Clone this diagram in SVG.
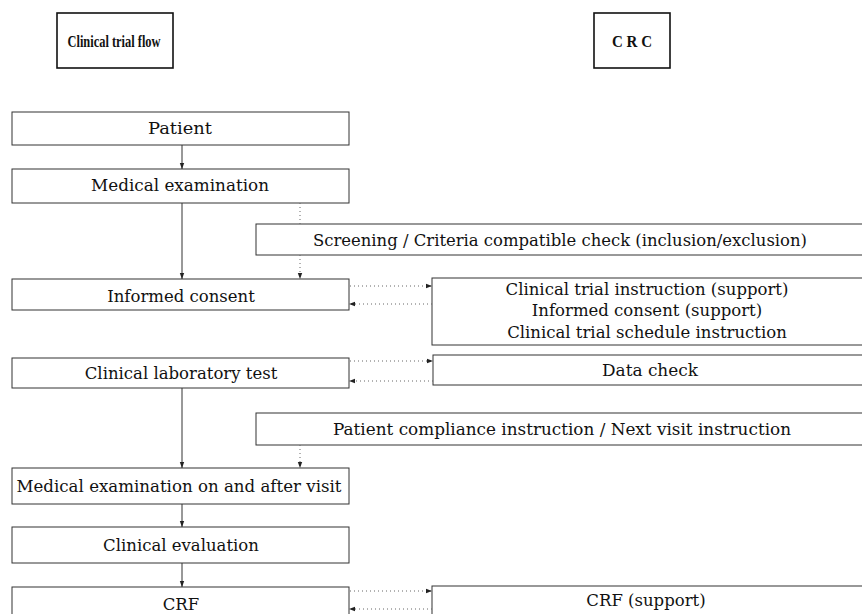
<svg xmlns="http://www.w3.org/2000/svg" width="862" height="614" viewBox="0 0 862 614">
<style>
.box{fill:#fff;stroke:#333;stroke-width:1}
.hbox{fill:#fff;stroke:#111;stroke-width:1.6}
.t{font-family:"DejaVu Serif","Liberation Serif",serif;font-size:16.5px;fill:#111;text-anchor:middle}
.h{font-family:"Liberation Serif",serif;font-size:17.5px;font-weight:bold;fill:#111;text-anchor:middle}
.solid{stroke:#333;stroke-width:1;fill:none}
.dot{stroke:#666;stroke-width:1;fill:none;stroke-dasharray:1 3}
</style>
<defs>
<marker id="ah" viewBox="0 0 6 6" refX="6" refY="3" markerWidth="6" markerHeight="6" markerUnits="userSpaceOnUse" orient="auto">
<path d="M0,0.8 L6,3 L0,5.2 z" fill="#222"/>
</marker>
</defs>
<rect width="862" height="614" fill="#fff"/>
<g id="hdr-flow"><rect class="hbox" x="57" y="13" width="116" height="55"/><text class="h" x="114" y="47" textLength="93" lengthAdjust="spacingAndGlyphs">Clinical trial flow</text></g>
<g id="hdr-crc"><rect class="hbox" x="594" y="13" width="76" height="55"/><text class="h" x="632" y="47" textLength="40" lengthAdjust="spacingAndGlyphs">C R C</text></g>
<g id="n-patient"><rect class="box" x="12" y="112" width="337" height="33"/><text class="t" x="180" y="134" textLength="64" lengthAdjust="spacingAndGlyphs">Patient</text></g>
<g id="n-medexam"><rect class="box" x="12" y="169" width="337" height="34"/><text class="t" x="180" y="191" textLength="178" lengthAdjust="spacingAndGlyphs">Medical examination</text></g>
<g id="n-screening"><rect class="box" x="256" y="224" width="620" height="31"/><text class="t" x="560" y="246" textLength="494" lengthAdjust="spacingAndGlyphs">Screening / Criteria compatible check (inclusion/exclusion)</text></g>
<g id="n-consent"><rect class="box" x="12" y="279" width="337" height="31"/><text class="t" x="181" y="302">Informed consent</text></g>
<g id="n-cti"><rect class="box" x="432" y="278" width="444" height="67"/>
<text class="t" x="647" y="295">Clinical trial instruction (support)</text>
<text class="t" x="647" y="316">Informed consent (support)</text>
<text class="t" x="647" y="338">Clinical trial schedule instruction</text></g>
<g id="n-labtest"><rect class="box" x="12" y="358" width="337" height="30"/><text class="t" x="181" y="379">Clinical laboratory test</text></g>
<g id="n-datacheck"><rect class="box" x="433" y="355" width="443" height="30"/><text class="t" x="650" y="376" textLength="96" lengthAdjust="spacingAndGlyphs">Data check</text></g>
<g id="n-compliance"><rect class="box" x="256" y="413" width="620" height="32"/><text class="t" x="562" y="435" textLength="458" lengthAdjust="spacingAndGlyphs">Patient compliance instruction / Next visit instruction</text></g>
<g id="n-visit"><rect class="box" x="12" y="468" width="337" height="36"/><text class="t" x="179" y="492" textLength="325" lengthAdjust="spacingAndGlyphs">Medical examination on and after visit</text></g>
<g id="n-eval"><rect class="box" x="12" y="527" width="337" height="36"/><text class="t" x="181" y="551">Clinical evaluation</text></g>
<g id="n-crf"><rect class="box" x="12" y="587" width="337" height="40"/><text class="t" x="181" y="610">CRF</text></g>
<g id="n-crfsupport"><rect class="box" x="432" y="586" width="444" height="40"/><text class="t" x="646" y="606">CRF (support)</text></g>
<g id="connectors">
<line class="solid" x1="182" y1="145" x2="182" y2="169" marker-end="url(#ah)"/>
<line class="solid" x1="182" y1="203" x2="182" y2="279" marker-end="url(#ah)"/>
<line class="dot" x1="300" y1="203" x2="300" y2="224"/>
<line class="dot" x1="300" y1="255" x2="300" y2="279" marker-end="url(#ah)"/>
<line class="dot" x1="350" y1="286" x2="432" y2="286" marker-end="url(#ah)"/>
<line class="dot" x1="432" y1="304" x2="349" y2="304" marker-end="url(#ah)"/>
<line class="dot" x1="350" y1="361" x2="433" y2="361" marker-end="url(#ah)"/>
<line class="dot" x1="433" y1="381" x2="349" y2="381" marker-end="url(#ah)"/>
<line class="solid" x1="182" y1="388" x2="182" y2="468" marker-end="url(#ah)"/>
<line class="dot" x1="300" y1="445" x2="300" y2="468" marker-end="url(#ah)"/>
<line class="solid" x1="182" y1="504" x2="182" y2="527" marker-end="url(#ah)"/>
<line class="solid" x1="182" y1="563" x2="182" y2="587" marker-end="url(#ah)"/>
<line class="dot" x1="350" y1="591" x2="432" y2="591" marker-end="url(#ah)"/>
<line class="dot" x1="432" y1="609" x2="349" y2="609" marker-end="url(#ah)"/>
</g>
</svg>
